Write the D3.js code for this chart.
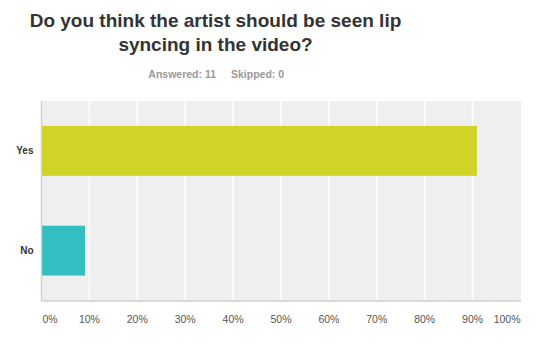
<!DOCTYPE html>
<html><head><meta charset="utf-8">
<script src="https://d3js.org/d3.v7.min.js"></script>
<style>body{margin:0;background:#fff}svg{display:block;font-family:Arial,"Liberation Sans",sans-serif}</style>
</head><body>
<script>
const categories = ["Yes", "No"];
const values = [90.91, 9.09];
const colors = ["#cfd427", "#33bec1"];
const tickValues = [0,10,20,30,40,50,60,70,80,90,100];
const titleLines = ["Do you think the artist should be seen lip", "syncing in the video?"];
const answered = 11, skipped = 0;

const W = 542, H = 358;
const svg = d3.select("body").append("svg").attr("width", W).attr("height", H);
const m = {left: 41.5, right: 521, top: 101, bottom: 300.5};

const x = d3.scaleLinear().domain([0,100]).range([m.left, 520.5]);
const y = d3.scaleBand().domain(categories).range([m.top, m.bottom]).paddingInner(0.5).paddingOuter(0.25);

// title
svg.append("g").selectAll("text").data(titleLines).join("text")
  .attr("x", 215.5).attr("y", (d,i)=> 27 + i*23.5)
  .attr("text-anchor","middle").attr("font-size","19px").attr("font-weight","bold").attr("fill","#333")
  .text(d=>d);
svg.append("text").attr("x",216).attr("y",77.5).attr("text-anchor","end")
  .attr("font-size","10.5px").attr("font-weight","bold").attr("fill","#999").text("Answered: " + answered);
svg.append("text").attr("x",231).attr("y",77.5).attr("text-anchor","start")
  .attr("font-size","10.5px").attr("font-weight","bold").attr("fill","#999").text("Skipped: " + skipped);

// plot background
svg.append("rect").attr("x", m.left).attr("y", m.top).attr("width", m.right - m.left).attr("height", m.bottom - m.top).attr("fill","#efefef");

// gridlines
svg.append("g").selectAll("line").data(tickValues.filter(t=>t>0 && t<100)).join("line")
  .attr("x1", d=>x(d)).attr("x2", d=>x(d)).attr("y1", m.top).attr("y2", m.bottom)
  .attr("stroke","#fff").attr("stroke-width",1.5);

// bars
svg.append("g").selectAll("rect").data(categories).join("rect")
  .attr("x", x(0)).attr("y", d=>y(d)).attr("height", y.bandwidth())
  .attr("width", (d,i)=> x(values[i]) - x(0)).attr("fill", (d,i)=>colors[i]);

// axis lines
svg.append("line").attr("x1", m.left).attr("x2", m.left).attr("y1", m.top).attr("y2", m.bottom+1)
  .attr("stroke","#d0d0d0").attr("stroke-width",1.5);
svg.append("line").attr("x1", m.left).attr("x2", m.right).attr("y1", m.bottom+0.5).attr("y2", m.bottom+0.5)
  .attr("stroke","#d9d9d9").attr("stroke-width",2);

// y labels
svg.append("g").selectAll("text").data(categories).join("text")
  .attr("x", 33.5).attr("y", d=>y(d)+y.bandwidth()/2).attr("dy","0.35em")
  .attr("text-anchor","end").attr("font-size","10px").attr("font-weight","bold").attr("fill","#333").text(d=>d);

// x tick labels
svg.append("g").selectAll("text").data(tickValues).join("text")
  .attr("x", d=> d===0 ? x(0)+1 : d===100 ? x(100) : x(d))
  .attr("y", 323)
  .attr("text-anchor", d=> d===0 ? "start" : d===100 ? "end" : "middle")
  .attr("font-size","10.5px").attr("fill","#555").text(d=>d+"%");
</script>
</body></html>
